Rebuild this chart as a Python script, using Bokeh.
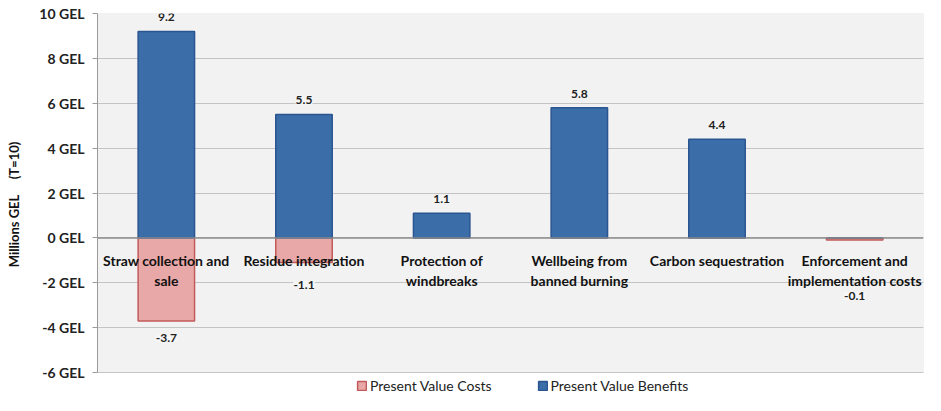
from bokeh.plotting import figure
from bokeh.models import (ColumnDataSource, FixedTicker, Span, Legend, LegendItem, Range1d,
                          BoxAnnotation)
from bokeh.core.properties import value
from bokeh.embed import file_html
from bokeh.resources import INLINE

categories = ["Straw collection and\nsale", "Residue integration", "Protection of\nwindbreaks",
              "Wellbeing from\nbanned burning", "Carbon sequestration",
              "Enforcement and\nimplementation costs"]
benefits = [9.2, 5.5, 1.1, 5.8, 4.4, 0.0]
costs = [-3.7, -1.1, 0.0, 0.0, 0.0, -0.1]
y_ticks = [-6, -4, -2, 0, 2, 4, 6, 8, 10]
y_tick_labels = {t: f"{t} GEL" for t in y_ticks}
Y_MIN, Y_MAX = -6, 10

FONT = "Lato"
idx = list(range(len(categories)))

W, H = 925, 395
TOP, PLOT_BOTTOM = 13, 372          # pixel rows for Y_MAX and Y_MIN
ppu = (PLOT_BOTTOM - TOP) / (Y_MAX - Y_MIN)
y_start = Y_MAX - (H - TOP) / ppu   # extend frame downward to hold the legend

p = figure(width=W, height=H, output_backend="svg", toolbar_location=None,
           x_range=Range1d(-0.5, len(categories) - 0.5), y_range=Range1d(y_start, Y_MAX),
           min_border_left=97, min_border_right=2, min_border_top=TOP, min_border_bottom=0)
p.background_fill_color = "white"
p.border_fill_color = "white"
p.outline_line_color = None
p.xaxis.visible = False
p.xgrid.visible = False
p.ygrid.grid_line_color = "#c4c4c4"
p.ygrid.ticker = FixedTicker(ticks=y_ticks)

# plot-area background and border (only between Y_MIN and Y_MAX)
p.add_layout(BoxAnnotation(bottom=Y_MIN, top=Y_MAX, fill_color="#f2f2f2", fill_alpha=1,
                           line_color="#b4b4b4", line_width=1, level="image"))

ax = p.yaxis[0]
ax.bounds = (Y_MIN, Y_MAX)
ax.ticker = FixedTicker(ticks=y_ticks)
ax.major_label_overrides = y_tick_labels
ax.major_label_text_font = FONT
ax.major_label_text_font_style = "bold"
ax.major_label_text_font_size = "14px"
ax.major_label_text_color = "#222222"
ax.major_label_standoff = 8
ax.major_tick_out = 5
ax.major_tick_in = 0
ax.minor_tick_line_color = None
ax.axis_line_color = "#9a9a9a"
ax.major_tick_line_color = "#9a9a9a"
ax.axis_label = "Millions GEL\u00a0\u00a0\u00a0\u00a0\u00a0(T=10)"
ax.axis_label_text_font = FONT
ax.axis_label_text_font_style = "bold"
ax.axis_label_text_font_size = "13px"
ax.axis_label_text_color = "#111111"
ax.axis_label_standoff = 14

src = ColumnDataSource(dict(x=idx, benefits=benefits, costs=costs, cat=categories))

r_cost = p.vbar(x="x", top="costs", bottom=0, width=0.41, source=src,
                fill_color="#e9a8a8", line_color="#c25a5a", line_width=1.5)
r_ben = p.vbar(x="x", top="benefits", bottom=0, width=0.41, source=src,
               fill_color="#3b6ea9", line_color="#2a5590", line_width=1.5)

p.add_layout(Span(location=0, dimension="width", line_color="#8c8c8c", line_width=1.5))

# category labels just under the zero line
p.text(x="x", y=0, text="cat", source=src, y_offset=14, text_align="center",
       text_baseline="top", text_font=value(FONT), text_font_style="bold",
       text_font_size="14px", text_color="#111111", text_line_height=1.2)

# value labels
pos_x = [i for i, v in zip(idx, benefits) if v > 0]
pos_v = [v for v in benefits if v > 0]
neg_x = [i for i, v in zip(idx, costs) if v < 0]
neg_v = [v for v in costs if v < 0]
neg_off = [17, 22, 56]
p.text(x=pos_x, y=pos_v, text=[f"{v:.1f}" for v in pos_v], y_offset=-14,
       text_align="center", text_baseline="middle", text_font=value(FONT),
       text_font_style="bold", text_font_size="12px", text_color="#222222",
       background_fill_color="#f6f6f6")
p.text(x=neg_x, y=neg_v, text=[f"{v:.1f}" for v in neg_v], y_offset=neg_off,
       text_align="center", text_baseline="middle", text_font=value(FONT),
       text_font_style="bold", text_font_size="12px", text_color="#222222",
       background_fill_color="#f6f6f6")

legend = Legend(items=[LegendItem(label="Present Value Costs", renderers=[r_cost]),
                       LegendItem(label="Present Value Benefits", renderers=[r_ben])],
                orientation="horizontal", location=(259, 1), margin=0, padding=2,
                spacing=45, label_text_font=FONT, label_text_font_size="14px",
                label_text_color="#222222", glyph_width=11, glyph_height=11,
                label_standoff=3, border_line_color=None, background_fill_alpha=0,
                label_height=14)
p.add_layout(legend)

open("out.html", "w").write(file_html(p, INLINE))
